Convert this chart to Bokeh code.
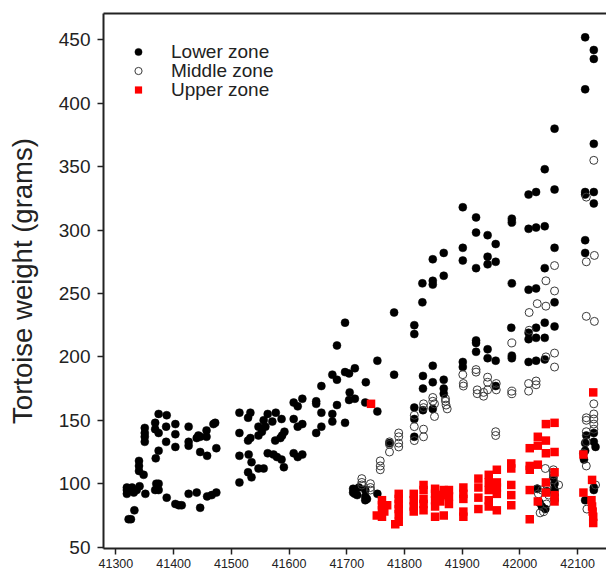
from bokeh.plotting import figure
from bokeh.models import FixedTicker, LinearAxis, Legend, LegendItem, Range1d
from bokeh.embed import file_html
from bokeh.resources import INLINE

# ---------------- data (day number, tortoise weight in grams) ----------------
lower_x = [
    41319, 41319, 41319, 41328, 41331, 41336, 41341, 41351, 41322, 41326, 41332,
    41340, 41340, 41340, 41348, 41350, 41350, 41350, 41350, 41368, 41368, 41374,
    41374, 41388, 41387, 41403, 41403, 41426, 41387, 41403, 41374, 41369, 41426,
    41426, 41443, 41440, 41446, 41457, 41457, 41472, 41469, 41446, 41458, 41474,
    41370, 41374, 41368, 41374, 41388, 41403, 41409, 41414, 41426, 41440, 41446,
    41458, 41466, 41474,
    41514, 41533, 41529, 41563, 41577, 41587, 41556, 41571, 41547, 41559, 41553,
    41547, 41514, 41592, 41588, 41585, 41533, 41529, 41576,
    41514, 41530, 41563, 41573, 41579, 41587, 41608, 41615, 41623,
    41535, 41547, 41556, 41591, 41529, 41535, 41514,
    41623, 41608, 41615, 41647, 41647, 41683, 41656, 41675, 41675, 41697, 41656,
    41647, 41608, 41615, 41623,
    41697, 41683, 41753, 41714, 41697, 41704, 41675, 41683, 41733, 41656, 41705,
    41704, 41714, 41732, 41753,
    41711, 41711, 41714, 41718, 41732, 41732, 41735, 41753, 41721, 41732,
    41782, 41782, 41774, 41817, 41817, 41831, 41831, 41849, 41849, 41849, 41868,
    41868, 41901, 41924, 41924, 41901, 41901, 41924, 41944, 41958, 41944, 41944,
    41958, 41924, 41924, 41924, 41944, 41944, 41958, 41901, 41901, 41849, 41832,
    41868, 41849, 41832, 41868, 41868, 41817, 41817, 41817, 41832, 41849, 41958,
    41986, 41986, 42015, 42028, 42043, 42060, 42043, 42060, 42015, 42028, 42060,
    41986, 42015, 42028, 42043, 42060, 41985, 42015, 42015, 42028, 42028, 42043,
    42043, 42060, 41986, 41986, 42015, 42028, 42043,
    42113, 42128, 42128, 42113, 42128, 42113, 42113, 42128, 42128, 42113, 42113,
    42113, 42113, 42115, 42128, 42128, 42131, 42111, 42128, 42128, 42113,
    42034, 42038, 42044, 42060, 42060, 42060, 42060, 42058, 42030, 42047,
]
lower_y = [
    97, 95, 92, 97, 93, 95, 98, 92, 72, 72, 79,
    118, 114, 110, 107, 144, 140, 137, 133, 148, 143, 140,
    155, 154, 145, 147, 139, 145, 133, 129, 126, 120, 133,
    130, 138, 136, 137, 137, 142, 148, 147, 125, 122, 128,
    100, 100, 95, 95, 89, 84, 83, 83, 92, 93, 81,
    90, 91, 93,
    156, 156, 152, 155, 156, 151, 150, 149, 145, 145, 141,
    138, 140, 141, 138, 136, 136, 134, 134,
    122, 123, 124, 123, 121, 119, 124, 121, 123,
    117, 112, 112, 113, 109, 105, 101,
    167, 164, 161, 165, 163, 162, 156, 155, 149, 148, 145,
    140, 151, 145, 147,
    227, 209, 197, 191, 188, 187, 186, 182, 180, 177, 172,
    166, 167, 164, 157,
    96, 93, 92, 91, 90, 87, 88, 92, 97, 95,
    235, 186, 132, 225, 218, 258, 243, 260, 257, 277, 282,
    264, 318, 310, 298, 286, 276, 270, 296, 289, 279, 273,
    275, 213, 211, 204, 206, 199, 197, 196, 192, 193, 185,
    182, 180, 175, 175, 171, 160, 151, 137, 158, 159, 177,
    309, 306, 301, 302, 303, 286, 348, 380, 328, 330, 332,
    258, 253, 254, 270, 243, 223, 219, 214, 223, 215, 227,
    215, 224, 201, 199, 196, 197, 198,
    452, 442, 435, 411, 368, 330, 328, 330, 321, 292, 282,
    132, 126, 138, 140, 133, 129, 119, 97, 95, 87,
    85, 82, 80, 100, 95, 91, 87, 105, 96, 94,
]

middle_x = [
    41726, 41726, 41726, 41741, 41741, 41741, 41758, 41758, 41758, 41774, 41774,
    41774, 41790, 41790, 41790, 41790, 41817, 41817, 41817, 41833, 41833, 41833,
    41833, 41849, 41849, 41852, 41852, 41871, 41871, 41872, 41874, 41902, 41902,
    41926, 41926, 41937, 41937, 41958, 41958,
    41901, 41924, 41924, 41944, 41944, 41959, 41959, 41944, 41986, 41986, 42015,
    42028, 42028, 42015,
    42060, 42045, 42060, 42030, 42045, 42016, 42115, 42129, 42115, 42129, 41986,
    42060, 42060, 42045, 42016, 42128, 42115,
    42044, 42058, 42058, 42058, 42058, 42067, 42030, 42032, 42038, 42047, 42050,
    42035, 42041, 42046,
    42115, 42115, 42128, 42128, 42128, 42128, 42115, 42115, 42128, 42115, 42131,
    42116, 42110,
]
middle_y = [
    104, 101, 99, 100, 97, 95, 118, 114, 111, 133, 131,
    125, 140, 137, 132, 129, 154, 145, 134, 143, 137, 163,
    160, 168, 165, 163, 153, 167, 165, 162, 159, 179, 177,
    174, 171, 172, 169, 141, 138,
    186, 190, 188, 184, 180, 179, 174, 174, 173, 171, 179,
    181, 178, 173,
    272, 260, 252, 242, 240, 235, 275, 280, 232, 228, 211,
    203, 192, 200, 221, 355, 326,
    112, 111, 109, 107, 103, 99, 96, 92, 95, 96, 91,
    77, 78, 84,
    152, 150, 155, 151, 147, 163, 141, 133, 143, 114, 99,
    80, 124,
]

upper_x = [
    41742,
    41761, 41761, 41761, 41752, 41761, 41770, 41765,
    41790, 41790, 41790, 41790, 41790, 41784, 41790,
    41816, 41816, 41816, 41816,
    41833, 41833, 41833, 41833, 41833,
    41853, 41853, 41853, 41853, 41853, 41862, 41862, 41868, 41868, 41868, 41877,
    41877, 41877,
    41902, 41902, 41902, 41902, 41902,
    41928, 41928, 41928, 41928,
    41946, 41946, 41946, 41946, 41946,
    41960, 41960, 41960, 41960, 41960,
    41985, 41985, 41985, 41985, 41985,
    42017, 42017, 42017, 42017, 42017,
    42031, 42031, 42031, 42031,
    42045, 42045, 42045, 42045, 42045,
    42060, 42060, 42060, 42060, 42060,
    42110, 42110, 42127, 42125, 42124, 42125, 42126, 42127, 42127,
]
upper_y = [
    163,
    87, 83, 79, 75, 74, 83, 78,
    92, 88, 84, 80, 76, 68, 70,
    92, 87, 82, 78,
    99, 95, 88, 84, 79,
    96, 92, 87, 82, 74, 91, 86, 95, 91, 75, 95,
    90, 84,
    97, 92, 88, 78, 74,
    104, 97, 89, 80,
    107, 101, 95, 87, 82,
    111, 101, 97, 92, 79,
    116, 112, 99, 91, 83,
    128, 114, 111, 95, 72,
    137, 130, 115, 86,
    147, 134, 124, 101, 93,
    148, 125, 109, 91, 86,
    123, 93, 172, 103, 87, 82, 78, 74, 69,
]

legend_labels = ["Lower zone", "Middle zone", "Upper zone"]
x_ticks = [41300, 41400, 41500, 41600, 41700, 41800, 41900, 42000, 42100]
y_ticks = [50, 100, 150, 200, 250, 300, 350, 400, 450]

# ---------------- figure ----------------
FONT = "Liberation Sans"
TXT = "#222222"

p = figure(width=606, height=573, output_backend="svg", toolbar_location=None,
           x_range=Range1d(41278.5, 42150), y_range=Range1d(48.9, 470.8),
           min_border_left=103, min_border_right=0, min_border_top=13,
           min_border_bottom=25)
p.outline_line_color = None
p.background_fill_color = "white"
p.border_fill_color = "white"
p.xgrid.visible = False
p.ygrid.visible = False

for ax in (p.xaxis[0], p.yaxis[0]):
    ax.axis_line_width = 2
    ax.axis_line_color = "#222222"
    ax.major_tick_line_color = "#222222"
    ax.major_tick_line_width = 1.5
    ax.major_tick_in = 0
    ax.minor_tick_line_color = None
    ax.major_label_text_font = FONT
    ax.major_label_text_color = TXT

p.xaxis.ticker = FixedTicker(ticks=x_ticks)
p.xaxis.major_tick_out = 6
p.xaxis.major_label_standoff = 4
p.xaxis.major_label_text_font_size = "12.5px"

p.yaxis.ticker = FixedTicker(ticks=y_ticks)
p.yaxis.major_tick_out = 6
p.yaxis.major_label_standoff = 7
p.yaxis.major_label_text_font_size = "19px"
p.yaxis.axis_label = "Tortoise weight (grams)"
p.yaxis.axis_label_text_font = FONT
p.yaxis.axis_label_text_font_size = "27.5px"
p.yaxis.axis_label_text_font_style = "normal"
p.yaxis.axis_label_text_color = TXT
p.yaxis.axis_label_standoff = 18

top = LinearAxis(ticker=FixedTicker(ticks=[]), axis_line_width=2,
                 axis_line_color="#222222", major_tick_line_color=None,
                 minor_tick_line_color=None, major_label_text_font_size="0px",
                 major_label_standoff=0, major_tick_out=0, major_tick_in=0)
p.add_layout(top, "above")

r_low = p.scatter(lower_x, lower_y, marker="circle", size=8,
                  fill_color="black", line_color="black", line_width=0.5)
r_mid = p.scatter(middle_x, middle_y, marker="circle", size=8,
                  fill_color=None, line_color="#3a3a3a", line_width=1)
r_up = p.scatter(upper_x, upper_y, marker="square", size=8.5,
                 fill_color="#ff0000", line_color=None)

# one legend per row so that rows sit 19 px apart, as in the reference
rows = [(r_low, 485.25), (r_mid, 466.25), (r_up, 447.25)]
for (rend, ybot), lab in zip(rows, legend_labels):
    lg = Legend(items=[LegendItem(label=lab, renderers=[rend])],
                location=(26, ybot), orientation="vertical",
                glyph_width=18, glyph_height=19, label_height=19,
                label_standoff=24, spacing=0, padding=0, margin=0,
                border_line_color=None, background_fill_color=None,
                label_text_font=FONT, label_text_font_size="19px",
                label_text_color=TXT)
    p.add_layout(lg, "center")

open("out.html", "w").write(file_html(p, INLINE))
